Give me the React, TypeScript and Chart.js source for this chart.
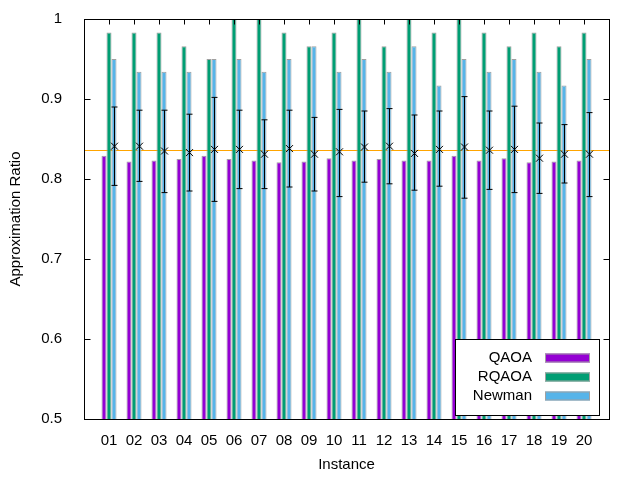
import { useEffect, useRef } from "react"
import { Chart, registerables } from "chart.js"

Chart.register(...registerables)

const instances = ["01", "02", "03", "04", "05", "06", "07", "08", "09", "10", "11", "12", "13", "14", "15", "16", "17", "18", "19", "20"]

const qaoa = [0.829, 0.822, 0.823, 0.825, 0.829, 0.825, 0.823, 0.821, 0.822, 0.826, 0.823, 0.825, 0.823, 0.823, 0.829, 0.823, 0.826, 0.821, 0.822, 0.823]
const rqaoa = [0.983, 0.983, 0.983, 0.966, 0.95, 1.0, 1.0, 0.983, 0.966, 0.983, 1.0, 0.966, 1.0, 0.983, 1.0, 0.983, 0.966, 0.983, 0.966, 0.983]
const newman = [0.95, 0.934, 0.934, 0.934, 0.95, 0.95, 0.934, 0.95, 0.966, 0.934, 0.95, 0.934, 0.966, 0.917, 0.95, 0.934, 0.95, 0.934, 0.917, 0.95]

// sampled runs: mean with low / high
const errMean = [0.841, 0.841, 0.835, 0.833, 0.837, 0.837, 0.831, 0.838, 0.831, 0.834, 0.84, 0.841, 0.832, 0.837, 0.84, 0.836, 0.837, 0.826, 0.831, 0.831]
const errLow = [0.792, 0.797, 0.783, 0.785, 0.772, 0.788, 0.788, 0.79, 0.785, 0.778, 0.796, 0.794, 0.786, 0.791, 0.776, 0.787, 0.783, 0.782, 0.795, 0.778]
const errHigh = [0.89, 0.886, 0.886, 0.881, 0.902, 0.886, 0.874, 0.886, 0.877, 0.887, 0.885, 0.888, 0.88, 0.885, 0.903, 0.885, 0.891, 0.87, 0.868, 0.883]

const refLine = 0.836

const yTicks = [0.5, 0.6, 0.7, 0.8, 0.9, 1]

const FONT = "'Liberation Sans', Arial, sans-serif"
const BAR_EDGE = "#a0a0a0"

// empty slot at each end so the axis runs from 0 to 21
const pad = (arr: number[]) => [null, ...arr, null]

const gnuplotFrame = {
  id: "gnuplotFrame",
  beforeDatasetsDraw(chart: any) {
    const { ctx, chartArea: a, scales } = chart
    const y = Math.round(scales.y.getPixelForValue(refLine)) + 0.5
    ctx.save()
    ctx.strokeStyle = "#ffa500"
    ctx.lineWidth = 1.2
    ctx.beginPath()
    ctx.moveTo(a.left, y)
    ctx.lineTo(a.right, y)
    ctx.stroke()
    ctx.restore()
  },
  afterDatasetsDraw(chart: any) {
    const { ctx, scales } = chart
    const meta = chart.getDatasetMeta(2)
    ctx.save()
    ctx.strokeStyle = "#000"
    ctx.lineWidth = 1
    for (let i = 0; i < instances.length; i++) {
      const el = meta.data[i + 1]
      if (!el) continue
      const x = Math.round(el.x) + 0.5
      const yl = scales.y.getPixelForValue(errLow[i])
      const yh = scales.y.getPixelForValue(errHigh[i])
      const ym = scales.y.getPixelForValue(errMean[i])
      ctx.beginPath()
      ctx.moveTo(x, yl)
      ctx.lineTo(x, yh)
      ctx.moveTo(x - 3, yl)
      ctx.lineTo(x + 3, yl)
      ctx.moveTo(x - 3, yh)
      ctx.lineTo(x + 3, yh)
      ctx.moveTo(x - 3.5, ym - 3.5)
      ctx.lineTo(x + 3.5, ym + 3.5)
      ctx.moveTo(x - 3.5, ym + 3.5)
      ctx.lineTo(x + 3.5, ym - 3.5)
      ctx.stroke()
    }
    ctx.restore()
  },
  afterDraw(chart: any) {
    const { ctx, chartArea: a, scales } = chart
    ctx.save()
    ctx.strokeStyle = "#000"
    ctx.lineWidth = 1
    const L = Math.round(a.left) + 0.5
    const R = Math.round(a.right) + 0.5
    const T = Math.round(a.top) + 0.5
    const B = Math.round(a.bottom) + 0.5
    ctx.beginPath()
    for (const v of yTicks) {
      const y = Math.round(scales.y.getPixelForValue(v)) + 0.5
      ctx.moveTo(L, y)
      ctx.lineTo(L + 6, y)
      ctx.moveTo(R, y)
      ctx.lineTo(R - 6, y)
    }
    for (let i = 1; i <= instances.length; i++) {
      const x = Math.round(scales.x.getPixelForValue(i)) + 0.5
      ctx.moveTo(x, T)
      ctx.lineTo(x, T + 5)
    }
    ctx.stroke()
    ctx.strokeRect(L, T, R - L, B - T)

    // legend box, bottom right
    const bx = 455.5, by = 339.5, bw = 144, bh = 76
    ctx.fillStyle = "#fff"
    ctx.fillRect(bx, by, bw, bh)
    ctx.strokeRect(bx, by, bw, bh)
    ctx.font = `15px ${FONT}`
    ctx.textAlign = "right"
    ctx.textBaseline = "middle"
    chart.data.datasets.forEach((ds: any, k: number) => {
      const cy = 358 + k * 19
      ctx.fillStyle = "#000"
      ctx.fillText(ds.label, 532, cy)
      ctx.fillStyle = ds.backgroundColor
      ctx.fillRect(545, cy - 4.5, 45, 9)
      ctx.strokeStyle = BAR_EDGE
      ctx.strokeRect(545.5, cy - 4, 44, 8)
    })
    ctx.restore()
  },
}

export default function App() {
  const chartRef = useRef<HTMLCanvasElement>(null)
  const chartInstance = useRef<Chart | null>(null)

  useEffect(() => {
    if (!chartRef.current) return
    if (chartInstance.current) chartInstance.current.destroy()
    const ctx = chartRef.current.getContext("2d")
    if (!ctx) return

    Chart.defaults.font.family = FONT
    Chart.defaults.font.size = 15
    Chart.defaults.color = "#000"

    const barStyle = {
      borderColor: BAR_EDGE,
      borderWidth: 1,
      barPercentage: 1,
      categoryPercentage: 0.6,
    }

    chartInstance.current = new Chart(ctx, {
      type: "bar",
      data: {
        labels: ["", ...instances, ""],
        datasets: [
          { label: "QAOA", data: pad(qaoa), backgroundColor: "#9400d3", ...barStyle },
          { label: "RQAOA", data: pad(rqaoa), backgroundColor: "#009e73", ...barStyle },
          { label: "Newman", data: pad(newman), backgroundColor: "#56b4e9", ...barStyle },
        ],
      },
      plugins: [gnuplotFrame],
      options: {
        animation: false,
        responsive: true,
        maintainAspectRatio: false,
        layout: { padding: { top: 19, right: 31, left: 0, bottom: 0 } },
        plugins: {
          legend: { display: false },
          tooltip: { enabled: false },
        },
        scales: {
          x: {
            offset: false,
            grid: { display: false },
            border: { display: false },
            ticks: { padding: 5, maxRotation: 0, autoSkip: false },
            title: { display: true, text: "Instance", padding: { top: 0, bottom: 6 } },
            afterFit: (s: any) => {
              s.height = 61
              s.paddingLeft = 0
              s.paddingRight = 0
            },
          },
          y: {
            min: 0.5,
            max: 1,
            grid: { display: false },
            border: { display: false },
            ticks: {
              stepSize: 0.1,
              padding: 14,
              callback: (v: any) => String(Math.round(Number(v) * 10) / 10),
            },
            title: { display: true, text: "Approximation Ratio", padding: { top: 7, bottom: 0 } },
            afterFit: (s: any) => {
              s.width = 84
              s.paddingTop = 0
              s.paddingBottom = 0
            },
          },
        },
      },
    })

    return () => {
      if (chartInstance.current) {
        chartInstance.current.destroy()
        chartInstance.current = null
      }
    }
  }, [])

  return (
    <div style={{ position: "fixed", left: 0, top: 0, width: 640, height: 480, background: "#fff" }}>
      <canvas ref={chartRef} />
    </div>
  )
}
